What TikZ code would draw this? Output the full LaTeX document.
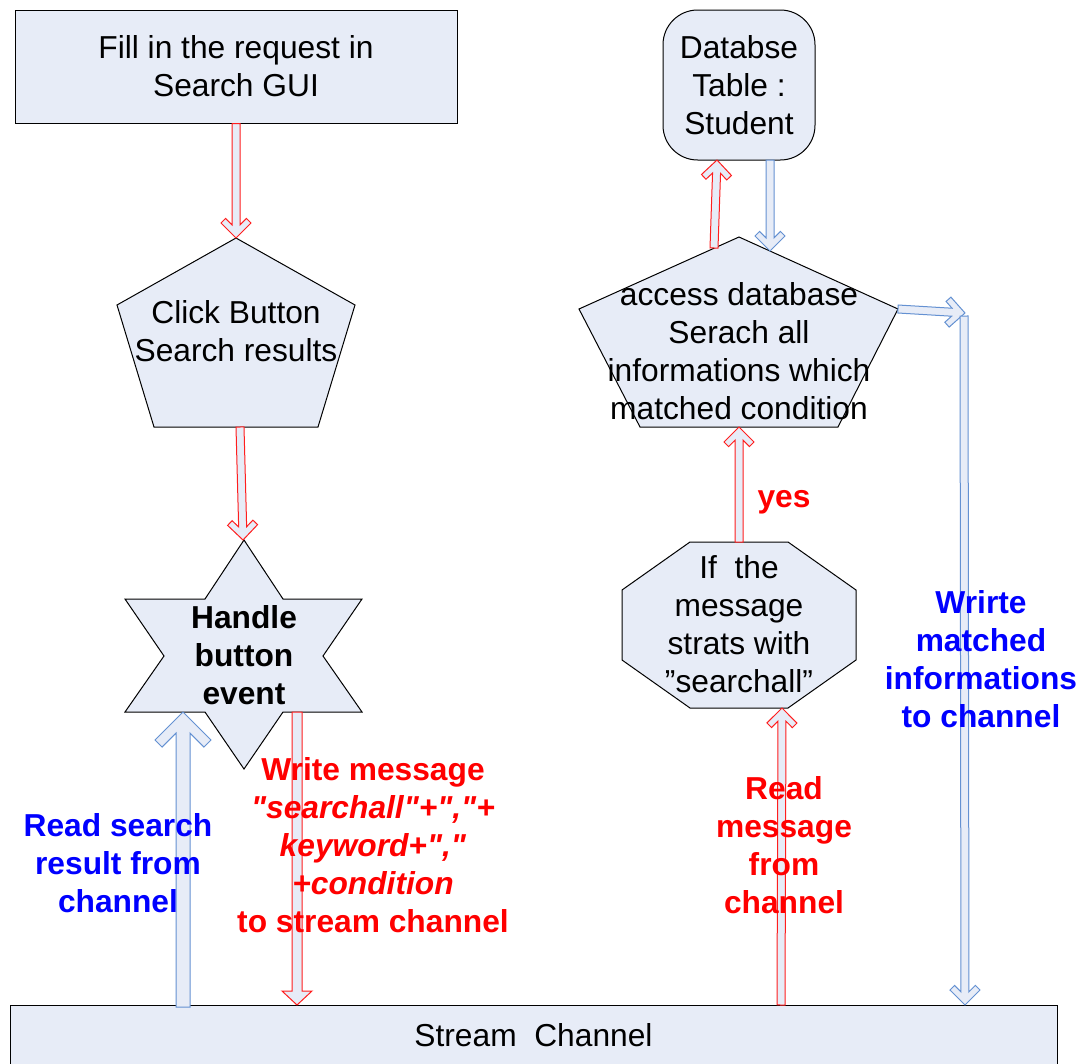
\documentclass[tikz,border=0pt]{standalone}
\usepackage{fontspec}
\setmainfont{Liberation Sans}[Ligatures=TeXOff]
\usetikzlibrary{calc}

\definecolor{shapefill}{RGB}{231,236,247}
\definecolor{arrowfill}{RGB}{231,236,247}
\definecolor{flowred}{RGB}{255,30,30}
\definecolor{flowblue}{RGB}{100,145,210}
\definecolor{labelred}{RGB}{255,0,0}
\definecolor{labelblue}{RGB}{0,0,255}

% Direction and length of a block arrow, from its tail (#1) to its tip (#2)
\makeatletter
\newcommand\cvsetup[2]{%
  \path (#1) coordinate (cv-tail) (#2) coordinate (cv-tip);
  \pgfpointdiff{\pgfpointanchor{cv-tip}{center}}{\pgfpointanchor{cv-tail}{center}}%
  \edef\cvdx{\the\pgf@x}\edef\cvdy{\the\pgf@y}%
  \pgfmathparse{atan2(\cvdy,\cvdx)}\let\cvang\pgfmathresult
  \pgfmathparse{veclen(\cvdx,\cvdy)}\let\cvlen\pgfmathresult
}
\makeatother

% Thin block arrow with an open chevron head
\newcommand\chevsmall[3]{%
  \cvsetup{#2}{#3}%
  \begin{scope}[shift={(cv-tip)},rotate=\cvang]
    \draw[draw=#1, fill=arrowfill, line width=0.75pt]
      (0pt,0pt) -- (11.25pt,11.25pt) -- (14.7pt,7.8pt) -- (9.9pt,3pt)
      -- (\cvlen pt,3pt) -- (\cvlen pt,-3pt) -- (9.9pt,-3pt)
      -- (14.7pt,-7.8pt) -- (11.25pt,-11.25pt) -- cycle;
  \end{scope}}

% Wide block arrow with an open chevron head
\newcommand\chevlarge[3]{%
  \cvsetup{#2}{#3}%
  \begin{scope}[shift={(cv-tip)},rotate=\cvang]
    \draw[draw=#1, fill=arrowfill, line width=0.75pt]
      (0pt,0pt) -- (21pt,21pt) -- (26.3pt,15.7pt) -- (15.86pt,5.25pt)
      -- (\cvlen pt,5.25pt) -- (\cvlen pt,-5.25pt) -- (15.86pt,-5.25pt)
      -- (26.3pt,-15.7pt) -- (21pt,-21pt) -- cycle;
  \end{scope}}

% Block arrow with a triangular head
\newcommand\triarrow[3]{%
  \cvsetup{#2}{#3}%
  \begin{scope}[shift={(cv-tip)},rotate=\cvang]
    \draw[draw=#1, fill=arrowfill, line width=0.75pt]
      (0pt,0pt) -- (10.5pt,11.25pt) -- (10.5pt,3.75pt)
      -- (\cvlen pt,3.75pt) -- (\cvlen pt,-3.75pt) -- (10.5pt,-3.75pt)
      -- (10.5pt,-11.25pt) -- cycle;
  \end{scope}}

\begin{document}
\begin{tikzpicture}[x=0.75pt,y=-0.75pt,
  font=\fontsize{23.8}{28.5}\selectfont,
  panel/.style={draw=black, fill=shapefill, line width=0.75pt},
  txt/.style={align=center, inner sep=0pt},
  lbl/.style={align=center, inner sep=0pt,
    font=\fontsize{23.8}{28.5}\selectfont\bfseries},
]
\useasboundingbox (0,0) rectangle (1083,1064);

% ---- boxes ----
\node[panel, txt, minimum width=331.5pt, minimum height=84.75pt]
  (gui) at (236,66.5) {Fill in the request in\\Search GUI};
\node[panel, txt, rounded corners=26pt, minimum width=114pt, minimum height=112.5pt]
  (db) at (739,85) {Databse\\Table :\\Student};
\node[panel, txt, minimum width=785.25pt, minimum height=45.75pt]
  (chan) at (533.5,1035.5) {Stream\ \ Channel};

% ---- click pentagon ----
\draw[panel] (236,238) -- (355,305) -- (318,427) -- (154,427) -- (117,305) -- cycle;
\node[txt] (click) at (236,331) {Click Button\\Search results};
\coordinate (click-top) at (236,238);
\coordinate (click-bot) at (240,427);

% ---- event star ----
\draw[panel] (244,540) -- (283,599) -- (362,599) -- (323,656) -- (362,712)
  -- (283,712) -- (244,769) -- (205,712) -- (125,712) -- (164,656)
  -- (125,599) -- (205,599) -- cycle;
\node[lbl] (handle) at (244,655) {Handle\\button\\event};
\coordinate (handle-top) at (243,540);
\coordinate (handle-in) at (183,712);
\coordinate (handle-out) at (297,712);

% ---- database access pentagon ----
\draw[panel] (739,237) -- (898,309) -- (838,427) -- (640,427) -- (579,309) -- cycle;
\node[txt] (access) at (739,351)
  {access database\\Serach all\\informations which\\matched condition};
\coordinate (access-query) at (714,248);
\coordinate (access-reply) at (770,251);
\coordinate (access-bot) at (739,427);
\coordinate (access-right) at (898,309);

% ---- test octagon ----
\draw[panel] (690,542) -- (788,542) -- (856,590) -- (856,660) -- (788,708)
  -- (690,708) -- (622,660) -- (622,590) -- cycle;
\node[txt] (test) at (739,624) {If\ \ the\\message\\strats with\\”searchall”};
\coordinate (test-top) at (739,542);
\coordinate (test-bot) at (782,708);

\coordinate (turn) at (965,313);
\coordinate (turn-down) at (964,316);

% ---- connectors ----
\chevsmall{flowred}{gui.south}{click-top}
\chevsmall{flowred}{click-bot}{handle-top}
\chevlarge{flowblue}{183,1007}{handle-in}
\triarrow{flowred}{handle-out}{297,1005}
\chevsmall{flowred}{781,1005}{test-bot}
\chevsmall{flowred}{test-top}{access-bot}
\chevsmall{flowred}{access-query}{717,160}
\chevsmall{flowblue}{770,160}{access-reply}
\chevsmall{flowblue}{access-right}{turn}
\chevsmall{flowblue}{turn-down}{965,1005}

% ---- labels ----
\node[lbl, text=labelblue] (readres) at (118,863) {Read search\\result from\\channel};
\node[lbl, text=labelred] (writemsg) at (373,845)
  {Write message\\\textit{"searchall"+","+}\\\textit{keyword+","}\\\textit{+condition}\\to stream channel};
\node[lbl, text=labelred] (yes) at (784,502) {yes};
\node[lbl, text=labelred] (readmsg) at (784,845) {Read\\message\\from\\channel};
\node[lbl, text=labelblue] (writematch) at (981,659) {Wrirte\\matched\\informations\\to channel};
\end{tikzpicture}
\end{document}
